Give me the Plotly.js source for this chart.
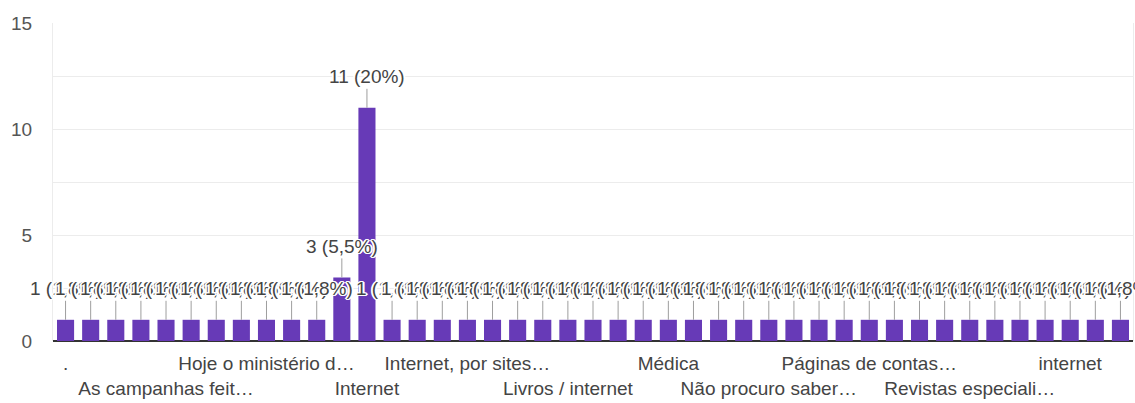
<!DOCTYPE html>
<html>
<head>
<meta charset="utf-8">
<script src="https://cdn.plot.ly/plotly-3.0.1.min.js"></script>
<style>html,body{margin:0;padding:0;background:#fff;}#chart{width:1135px;height:403px;}</style>
</head>
<body>
<div id="chart"></div>
<script>
// Categories (only the labels visible in the reference are known; others left blank)
const categories = [
  ".", "", "", "", "As campanhas feit…", "", "", "", "Hoje o ministério d…", "", "",
  "", "Internet", "", "", "", "Internet, por sites…", "", "", "", "Livros / internet", "",
  "", "", "Médica", "", "", "", "Não procuro saber…", "", "", "",
  "Páginas de contas…", "", "", "", "Revistas especiali…", "", "", "", "internet", "", ""
];
const values = [
  1, 1, 1, 1, 1, 1, 1, 1, 1, 1, 1,
  3, 11,
  1, 1, 1, 1, 1, 1, 1, 1, 1, 1, 1, 1, 1, 1, 1, 1, 1, 1, 1, 1, 1, 1, 1, 1, 1, 1, 1, 1, 1, 1
];
const yTickVals = [0, 2.5, 5, 7.5, 10, 12.5, 15];
const yTickText = ["0", "", "5", "", "10", "", "15"];

const total = values.reduce((a, b) => a + b, 0);
const xIdx = values.map((_, i) => i);
const pctLabel = v => {
  let p = (v / total * 100).toFixed(1).replace(/\.0$/, "").replace(".", ",");
  return v + " (" + p + "%)";
};

// tick labels: alternating rows
const tickvals = [], ticktext = [];
let row = 0;
categories.forEach((c, i) => {
  if (c !== "") {
    tickvals.push(i);
    ticktext.push(row % 2 === 0 ? c : "<br>" + c);
    row++;
  }
});

const FONT = "Liberation Sans, Arial, sans-serif";
const halo = "1px 0 0 #fff, -1px 0 0 #fff, 0 1px 0 #fff, 0 -1px 0 #fff, 1px 1px 0 #fff, -1px -1px 0 #fff, 1px -1px 0 #fff, -1px 1px 0 #fff, 2px 0 0 #fff, -2px 0 0 #fff";

const annotations = values.map((v, i) => ({
  x: i, y: v, xref: "x", yref: "y",
  text: pctLabel(v),
  showarrow: true, arrowhead: 0, arrowwidth: 1, arrowcolor: "#9e9e9e",
  ax: 0, ay: -31, standoff: 0, startstandoff: 0,
  font: {family: FONT, size: 19, color: "#444", shadow: halo}
}));

const trace = {
  type: "bar",
  x: xIdx,
  y: values,
  marker: {color: "#673ab7"},
  hoverinfo: "none"
};

const layout = {
  width: 1135, height: 403,
  margin: {l: 53, r: 2, t: 23, b: 62},
  paper_bgcolor: "#fff", plot_bgcolor: "#fff",
  bargap: 0.32,
  showlegend: false,
  font: {family: FONT, size: 19, color: "#444"},
  xaxis: {
    range: [-0.5, values.length - 0.5],
    tickmode: "array", tickvals: tickvals, ticktext: ticktext,
    tickangle: 0, showgrid: false, zeroline: false, ticks: "",
    showline: false, fixedrange: true, ticklabelstandoff: 9,
    tickfont: {family: FONT, size: 19, color: "#444"}
  },
  yaxis: {
    range: [0, 15],
    tickmode: "array", tickvals: yTickVals, ticktext: yTickText,
    showgrid: true, gridcolor: "#ececec", gridwidth: 1,
    zeroline: true, zerolinecolor: "#333", zerolinewidth: 2,
    showline: true, linecolor: "#ececec", mirror: true,
    ticks: "", ticklabelstandoff: 16, fixedrange: true,
    tickfont: {family: FONT, size: 19, color: "#555"}
  },
  annotations: annotations
};

Plotly.newPlot("chart", [trace], layout, {displayModeBar: false, staticPlot: true});
</script>
</body>
</html>
